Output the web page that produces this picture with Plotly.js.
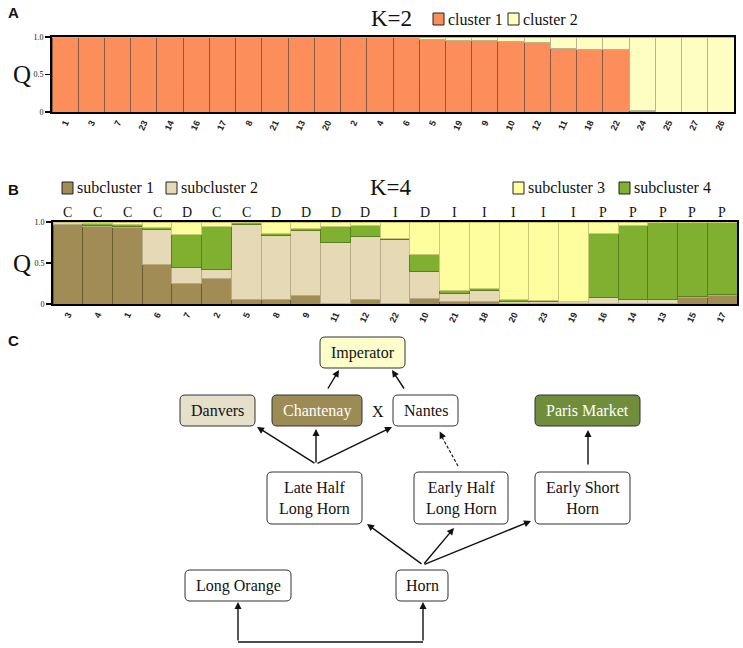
<!DOCTYPE html>
<html>
<head>
<meta charset="utf-8">
<script src="https://cdn.plot.ly/plotly-3.0.1.min.js"></script>
<style>html,body{margin:0;padding:0;background:#fff}#chart{width:743px;height:648px}</style>
</head>
<body>
<div id="chart"></div>
<script>
// ---------- DATA ----------
const samplesA = ['1','3','7','23','14','16','17','8','21','13','20','2','4','6','5','19','9','10','12','11','18','22','24','25','27','26'];
const cluster1 = [1,1,1,1,1,1,1,1,1,1,1,0.995,0.99,0.99,0.965,0.96,0.955,0.94,0.925,0.845,0.83,0.84,0.02,0,0,0];
const cluster2 = [0,0,0,0,0,0,0,0,0,0,0,0.005,0.01,0.01,0.035,0.04,0.045,0.06,0.075,0.155,0.17,0.16,0.98,1,1,1];
const namesA = ['cluster 1','cluster 2'];

const samplesB = ['3','4','1','6','7','2','5','8','9','11','12','22','10','21','18','20','23','19','16','14','13','15','17'];
const groupsB  = ['C','C','C','C','D','C','C','D','D','D','D','I','D','I','I','I','I','I','P','P','P','P','P'];
const sub1 = [0.97,0.94,0.93,0.48,0.25,0.31,0.06,0.05,0.10,0.01,0.05,0.01,0.07,0.03,0.03,0.01,0.01,0.01,0.01,0.01,0.01,0.08,0.10];
const sub2 = [0.025,0.02,0.015,0.43,0.19,0.11,0.91,0.785,0.80,0.745,0.77,0.775,0.33,0.10,0.13,0.025,0.02,0.015,0.07,0.05,0.04,0.01,0.015];
const sub3 = [0.005,0.015,0.03,0.07,0.155,0.06,0.01,0.135,0.08,0.06,0.045,0.20,0.40,0.83,0.81,0.945,0.96,0.97,0.145,0.04,0.005,0.005,0];
const sub4 = [0,0.025,0.025,0.02,0.405,0.52,0.02,0.03,0.02,0.185,0.135,0.015,0.20,0.04,0.03,0.02,0.01,0.005,0.775,0.90,0.945,0.905,0.885];
const namesB = ['subcluster 1','subcluster 2','subcluster 3','subcluster 4'];

const yTickVals = [0, 0.5, 1];
const yTickText = ['0', '0.5', '1.0'];
const titleA = 'K=2', titleB = 'K=4';

const nodeNames = ['Imperator','Danvers','Chantenay','Nantes','Paris Market','Late Half<br>Long Horn','Early Half<br>Long Horn','Early Short<br>Horn','Long Orange','Horn'];

// ---------- STYLE / LAYOUT ----------
const W = 743, H = 648;
const X = p => p / W;
const Y = p => 1 - p / H;
const SERIF = 'Liberation Serif, Times New Roman, serif';
const SANS = 'Liberation Sans, Arial, sans-serif';

const colA = ['#FB8E5B', '#FEFDC2'];
const lineA = ['#8a5b3e', '#b9b48e'];
const colB = ['#A28C55', '#E5D9B6', '#FEFE9E', '#80B02F'];
const lineB = ['#6c5c34', '#b7ab88', '#c9c877', '#5a7f1f'];

const plotA = {x0: 52, x1: 734, y0: 37, y1: 112};
const plotB = {x0: 53, x1: 737, y0: 222, y1: 304};

// node box geometry (pixels): x0,y0,x1,y1, fill, text color
const nodeBoxes = [
  [320, 337, 405, 368, '#FEFECB', '#111'],
  [180, 395, 255, 426, '#E5E0CA', '#111'],
  [272, 395, 362, 426, '#9C8B55', '#fff'],
  [393, 395, 458, 426, '#ffffff', '#111'],
  [535, 395, 640, 426, '#6F8D3B', '#fff'],
  [267, 472, 362, 524, '#ffffff', '#111'],
  [414, 472, 508, 524, '#ffffff', '#111'],
  [535, 472, 630, 524, '#ffffff', '#111'],
  [185, 570, 291, 601, '#ffffff', '#111'],
  [396, 570, 448, 601, '#ffffff', '#111']
];
// arrows: [tailX, tailY, headX, headY]
const arrows = [
  [327, 390, 339, 370],
  [405, 390, 392, 370],
  [316, 464, 257, 427],
  [316, 464, 316, 429],
  [316, 464, 392, 427],
  [588, 466, 588, 430],
  [423, 565, 367, 524],
  [423, 565, 454, 528],
  [423, 565, 531, 521],
  [238, 642, 238, 602],
  [423, 642, 423, 602]
];

function rr(x0, y0, x1, y1, r) {
  return `M${X(x0+r)},${Y(y0)} L${X(x1-r)},${Y(y0)} Q${X(x1)},${Y(y0)} ${X(x1)},${Y(y0+r)} ` +
         `L${X(x1)},${Y(y1-r)} Q${X(x1)},${Y(y1)} ${X(x1-r)},${Y(y1)} L${X(x0+r)},${Y(y1)} ` +
         `Q${X(x0)},${Y(y1)} ${X(x0)},${Y(y1-r)} L${X(x0)},${Y(y0+r)} Q${X(x0)},${Y(y0)} ${X(x0+r)},${Y(y0)} Z`;
}

// ---------- TRACES ----------
const traces = [];
[cluster1, cluster2].forEach((v, i) => traces.push({
  type: 'bar', x: samplesA, y: v, name: namesA[i], xaxis: 'x', yaxis: 'y',
  marker: {color: colA[i], line: {color: lineA[i], width: 1}}, showlegend: false, hoverinfo: 'x+y+name'
}));
[[sub1,0],[sub2,1],[sub4,3],[sub3,2]].forEach(([v, i]) => traces.push({
  type: 'bar', x: samplesB, y: v, name: namesB[i], xaxis: 'x2', yaxis: 'y2',
  marker: {color: colB[i], line: {color: lineB[i], width: 1}}, showlegend: false, hoverinfo: 'x+y+name'
}));

// ---------- SHAPES & ANNOTATIONS ----------
const shapes = [];
const ann = [];
const axisFont = {family: SERIF, size: 8, color: '#111'};

function panelLetter(t, x, y) {
  ann.push({text: t, x: X(x), y: Y(y), xref: 'paper', yref: 'paper', showarrow: false,
            font: {family: SANS, size: 15, color: '#111', weight: 'bold'}, xanchor: 'left', yanchor: 'middle'});
}
panelLetter('A', 6, 13); panelLetter('B', 6, 189); panelLetter('C', 6, 340);

function bigText(t, x, y, size) {
  ann.push({text: t, x: X(x), y: Y(y), xref: 'paper', yref: 'paper', showarrow: false,
            font: {family: SERIF, size: size, color: '#111'}, xanchor: 'center', yanchor: 'middle'});
}
bigText(titleA, 391, 18, 23);
bigText(titleB, 391, 188, 23);
bigText('Q', 22, 75, 25);
bigText('Q', 22, 263, 25);

function legendItem(name, color, x, y) {
  shapes.push({type: 'rect', xref: 'paper', yref: 'paper', x0: X(x), x1: X(x + 11), y0: Y(y - 6), y1: Y(y + 6),
               fillcolor: color, line: {color: '#222', width: 1}});
  ann.push({text: name, x: X(x + 13), y: Y(y), xref: 'paper', yref: 'paper', showarrow: false,
            font: {family: SERIF, size: 16, color: '#111'}, xanchor: 'left', yanchor: 'middle'});
}
legendItem(namesA[0], colA[0], 433, 19);
legendItem(namesA[1], colA[1], 508, 19);
legendItem(namesB[0], colB[0], 62, 188);
legendItem(namesB[1], colB[1], 166, 188);
legendItem(namesB[2], colB[2], 513, 188);
legendItem(namesB[3], colB[3], 619, 188);

// group letters centred over each bar of panel B
const bw = (plotB.x1 - plotB.x0) / samplesB.length;
groupsB.forEach((g, i) => ann.push({text: g, x: X(plotB.x0 + (i + 0.5) * bw), y: Y(212), xref: 'paper', yref: 'paper', showarrow: false,
  font: {family: SERIF, size: 14, color: '#111'}, xanchor: 'center', yanchor: 'middle'}));

// diagram boxes
nodeBoxes.forEach((b, i) => {
  shapes.push({type: 'path', xref: 'paper', yref: 'paper', path: rr(b[0], b[1], b[2], b[3], 5),
               fillcolor: b[4], line: {color: '#333', width: 1}});
  ann.push({text: nodeNames[i], x: X((b[0] + b[2]) / 2), y: Y((b[1] + b[3]) / 2), xref: 'paper', yref: 'paper',
            showarrow: false, font: {family: SERIF, size: 16, color: b[5]}, xanchor: 'center', yanchor: 'middle'});
});
bigText('X', 378, 411, 16);

arrows.forEach(a => ann.push({x: X(a[2]), y: Y(a[3]), xref: 'paper', yref: 'paper', text: '',
  ax: a[0] - a[2], ay: a[1] - a[3], axref: 'pixel', ayref: 'pixel', showarrow: true,
  arrowhead: 2, arrowsize: 1, arrowwidth: 1.4, arrowcolor: '#111', standoff: 0}));
// dashed arrow (Early Half -> Nantes)
shapes.push({type: 'line', xref: 'paper', yref: 'paper', x0: X(458), y0: Y(466), x1: X(442), y1: Y(437),
             line: {color: '#111', width: 1.1, dash: '3px,2px'}});
ann.push({x: X(439.7), y: Y(431.5), xref: 'paper', yref: 'paper', text: '', ax: 3, ay: 6, axref: 'pixel', ayref: 'pixel',
  showarrow: true, arrowhead: 2, arrowsize: 1, arrowwidth: 1.4, arrowcolor: '#111', standoff: 0});
// bracket line Long Orange - Horn
shapes.push({type: 'line', xref: 'paper', yref: 'paper', x0: X(238), y0: Y(642), x1: X(423), y1: Y(642),
             line: {color: '#111', width: 1.4}});

// ---------- LAYOUT ----------
const xCommon = {type: 'category', showline: true, mirror: true, linecolor: '#000', linewidth: 2, ticks: '',
  tickangle: -65, tickfont: {family: SANS, size: 9, color: '#222', weight: 'bold'},
  showgrid: false, zeroline: false, fixedrange: true};
const yCommon = {range: [0, 1], tickvals: yTickVals, ticktext: yTickText, ticks: 'outside', ticklen: 5, tickwidth: 1.5,
  tickcolor: '#000', tickfont: axisFont, showline: true, mirror: true, linecolor: '#000', linewidth: 2,
  showgrid: false, zeroline: false, fixedrange: true};

const layout = {
  width: W, height: H, autosize: false,
  margin: {l: 0, r: 0, t: 0, b: 0},
  paper_bgcolor: '#fff', plot_bgcolor: '#fff',
  barmode: 'stack', bargap: 0,
  showlegend: false,
  xaxis: Object.assign({}, xCommon, {domain: [X(plotA.x0), X(plotA.x1)], anchor: 'y'}),
  yaxis: Object.assign({}, yCommon, {domain: [Y(plotA.y1), Y(plotA.y0)], anchor: 'x'}),
  xaxis2: Object.assign({}, xCommon, {domain: [X(plotB.x0), X(plotB.x1)], anchor: 'y2'}),
  yaxis2: Object.assign({}, yCommon, {domain: [Y(plotB.y1), Y(plotB.y0)], anchor: 'x2'}),
  shapes: shapes,
  annotations: ann
};

Plotly.newPlot('chart', traces, layout, {displayModeBar: false, staticPlot: true});
</script>
</body>
</html>
